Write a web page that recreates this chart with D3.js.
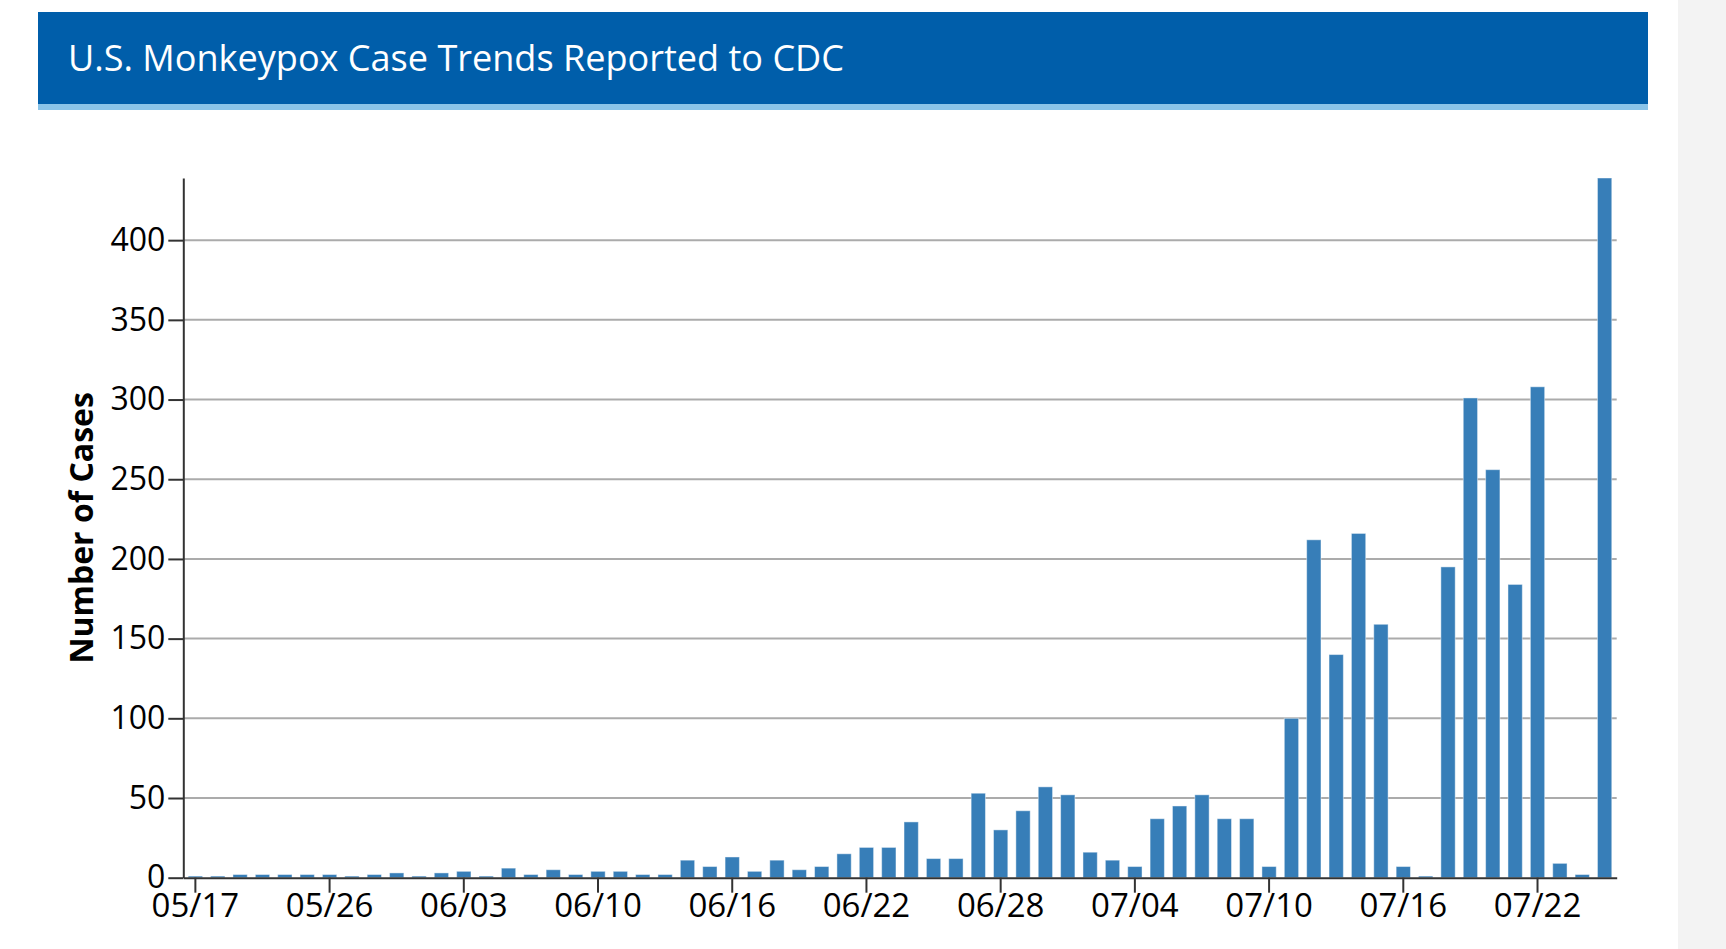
<!DOCTYPE html>
<html>
<head>
<meta charset="utf-8">
<script src="https://cdn.jsdelivr.net/npm/d3@7"></script>
<style>
  html, body { margin: 0; padding: 0; background: #fff; }
  svg { display: block; }
</style>
</head>
<body>
<svg id="chart" width="1726" height="949"></svg>
<script>
const titleText = "U.S. Monkeypox Case Trends Reported to CDC";
const yAxisLabel = "Number of Cases";

const dates = [
  "05/17","05/18","05/19","05/20","05/23","05/25",
  "05/26","05/27","05/28","05/31","06/01","06/02",
  "06/03","06/04","06/06","06/07","06/08","06/09",
  "06/10","06/11","06/12","06/13","06/14","06/15",
  "06/16","06/17","06/18","06/19","06/20","06/21",
  "06/22","06/23","06/24","06/25","06/26","06/27",
  "06/28","06/29","06/30","07/01","07/02","07/03",
  "07/04","07/05","07/06","07/07","07/08","07/09",
  "07/10","07/11","07/12","07/13","07/14","07/15",
  "07/16","07/17","07/18","07/19","07/20","07/21",
  "07/22","07/23","07/24","07/25"
];

const cases = [
  1, 1, 2, 2, 2, 2,
  2, 1, 2, 3, 1, 3,
  4, 1, 6, 2, 5, 2,
  4, 4, 2, 2, 11, 7,
  13, 4, 11, 5, 7, 15,
  19, 19, 35, 12, 12, 53,
  30, 42, 57, 52, 16, 11,
  7, 37, 45, 52, 37, 37,
  7, 100, 212, 140, 216, 159,
  7, 1, 195, 301, 256, 184,
  308, 9, 2, 439
];

const yTicks = [0, 50, 100, 150, 200, 250, 300, 350, 400];
const xTickEvery = 6;

const svg = d3.select("#chart");

// side panel
svg.append("rect").attr("x", 1678).attr("y", 0).attr("width", 48).attr("height", 949).attr("fill", "#f3f3f3");

// header
svg.append("rect").attr("x", 38).attr("y", 12).attr("width", 1610).attr("height", 92).attr("fill", "#005eaa");
svg.append("rect").attr("x", 38).attr("y", 104).attr("width", 1610).attr("height", 6).attr("fill", "#8ac4e9");
svg.append("text")
  .attr("x", 68).attr("y", 71)
  .attr("fill", "#fff")
  .attr("font-family", "'Open Sans', sans-serif")
  .attr("font-size", 36)
  .attr("textLength", 776)
  .attr("lengthAdjust", "spacingAndGlyphs")
  .text(titleText);

const plotLeft = 183.3, plotRight = 1616.7, plotTop = 178, plotBottom = 877.7;

const x = d3.scaleBand().domain(dates).range([plotLeft, plotRight]).paddingInner(0.36).paddingOuter(0.22);
const y = d3.scaleLinear().domain([0, d3.max(cases)]).range([plotBottom, plotTop]);

// gridlines
svg.append("g")
  .selectAll("line")
  .data(yTicks.filter(d => d > 0))
  .join("line")
  .attr("x1", plotLeft).attr("x2", plotRight)
  .attr("y1", d => y(d)).attr("y2", d => y(d))
  .attr("stroke", "#ababab").attr("stroke-width", 2);

// bars
svg.append("g")
  .selectAll("rect")
  .data(cases)
  .join("rect")
  .attr("x", (d, i) => x(dates[i]))
  .attr("y", d => y(d))
  .attr("width", x.bandwidth())
  .attr("height", d => plotBottom - y(d))
  .attr("fill", "#377eb8")
  .attr("stroke", "rgba(255,255,255,0.45)")
  .attr("stroke-width", 1);

// y axis
const yAxis = svg.append("g")
  .attr("transform", `translate(${plotLeft},0)`)
  .call(d3.axisLeft(y).tickValues(yTicks).tickSize(15).tickPadding(3).tickSizeOuter(0));
yAxis.select(".domain").attr("stroke", "#333").attr("stroke-width", 2);
yAxis.selectAll(".tick line").attr("stroke", "#333").attr("stroke-width", 2);
yAxis.selectAll(".tick text")
  .attr("font-family", "'Open Sans', sans-serif")
  .attr("font-size", 32)
  .attr("fill", "#000");

// x axis
const xAxis = svg.append("g")
  .attr("transform", `translate(0,${plotBottom})`)
  .call(d3.axisBottom(x).tickValues(dates.filter((d, i) => i % xTickEvery === 0)).tickSize(15).tickPadding(1).tickSizeOuter(0));
xAxis.select(".domain").attr("stroke", "#333").attr("stroke-width", 2);
xAxis.selectAll(".tick line").attr("stroke", "#333").attr("stroke-width", 2);
xAxis.selectAll(".tick text")
  .attr("font-family", "'Open Sans', sans-serif")
  .attr("font-size", 33)
  .attr("fill", "#000");

// y axis label
svg.append("text")
  .attr("transform", `translate(93,${(plotTop + plotBottom) / 2}) rotate(-90)`)
  .attr("text-anchor", "middle")
  .attr("font-family", "'Open Sans', sans-serif")
  .attr("font-weight", "bold")
  .attr("font-size", 32)
  .attr("fill", "#000")
  .text(yAxisLabel);
</script>
</body>
</html>
